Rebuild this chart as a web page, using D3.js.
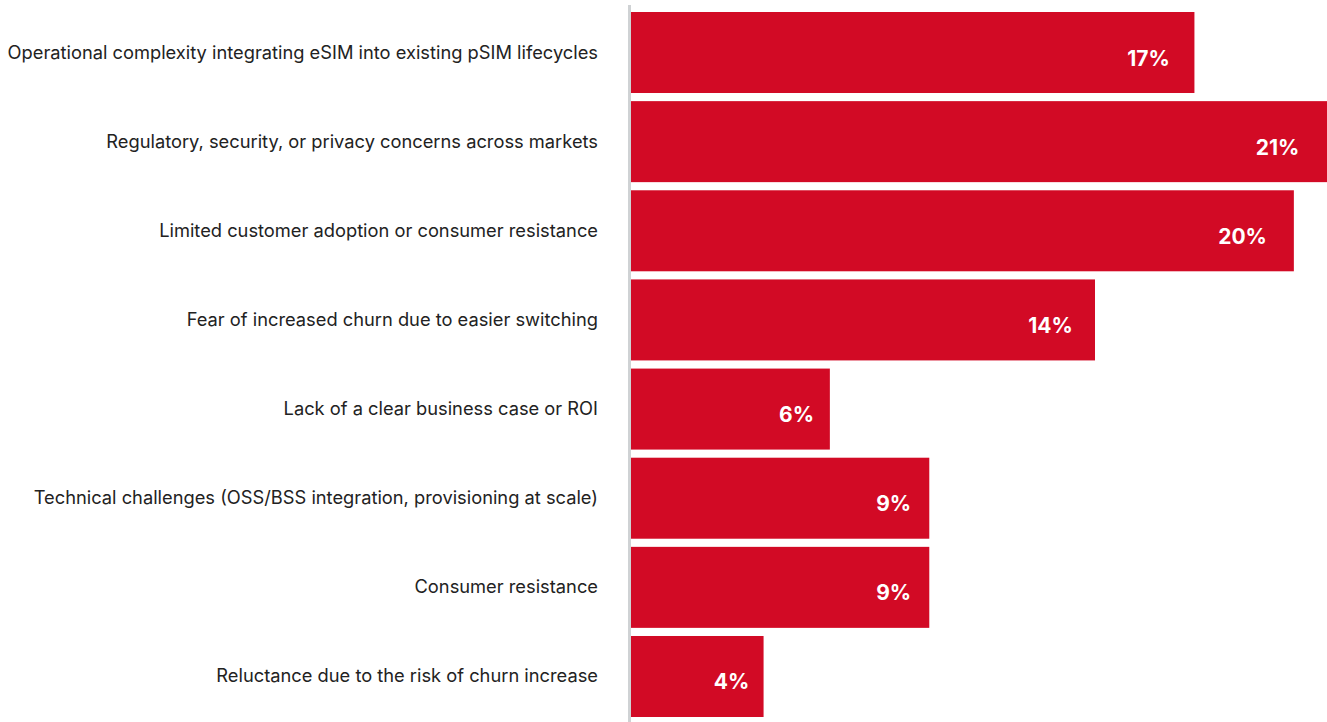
<!DOCTYPE html>
<html>
<head>
<meta charset="utf-8">
<script src="https://cdn.jsdelivr.net/npm/d3@7"></script>
<style>
  html, body { margin: 0; padding: 0; background: #ffffff; }
  svg { display: block; }
</style>
</head>
<body>
<svg id="chart" width="1327" height="722"></svg>
<script>
// Barriers to eSIM rollout, share of respondents (%)
const categories = [
  "Operational complexity integrating eSIM into existing pSIM lifecycles",
  "Regulatory, security, or privacy concerns across markets",
  "Limited customer adoption or consumer resistance",
  "Fear of increased churn due to easier switching",
  "Lack of a clear business case or ROI",
  "Technical challenges (OSS/BSS integration, provisioning at scale)",
  "Consumer resistance",
  "Reluctance due to the risk of churn increase"
];
const values = [17, 21, 20, 14, 6, 9, 9, 4];

const width = 1327, height = 722;
const x0 = 631, x1 = 1327;

const svg = d3.select("#chart");

const x = d3.scaleLinear().domain([0, 21]).range([x0, x1]);
const y = d3.scaleBand()
  .domain(categories)
  .range([12, 717])
  .paddingInner(0.0913)
  .paddingOuter(0);

// bars
svg.append("g")
  .selectAll("rect")
  .data(values)
  .join("rect")
  .attr("x", x(0))
  .attr("y", (d, i) => y(categories[i]))
  .attr("width", d => x(d) - x(0))
  .attr("height", y.bandwidth())
  .attr("fill", "#d20a25");

// vertical baseline
svg.append("line")
  .attr("x1", x0 - 1.5).attr("x2", x0 - 1.5)
  .attr("y1", 5).attr("y2", height)
  .attr("stroke", "#cfd2d4")
  .attr("stroke-width", 3);

// category labels
svg.append("g")
  .selectAll("text")
  .data(categories)
  .join("text")
  .attr("x", 598)
  .attr("y", d => y(d) + y.bandwidth() / 2 + 6)
  .attr("text-anchor", "end")
  .attr("font-family", "Inter, 'Noto Sans', sans-serif")
  .attr("font-size", 18.3)
  .attr("fill", "#222222")
  .text(d => d);

// value labels inside bar ends
svg.append("g")
  .selectAll("text")
  .data(values)
  .join("text")
  .attr("x", d => x(0) + 0.976 * (x(d) - x(0)) - 11)
  .attr("y", (d, i) => y(categories[i]) + y.bandwidth() / 2 + 13)
  .attr("text-anchor", "end")
  .attr("font-family", "Inter, 'Noto Sans', sans-serif")
  .attr("font-weight", 700)
  .attr("font-size", 21)
  .attr("fill", "#ffffff")
  .text(d => d + "%");
</script>
</body>
</html>
